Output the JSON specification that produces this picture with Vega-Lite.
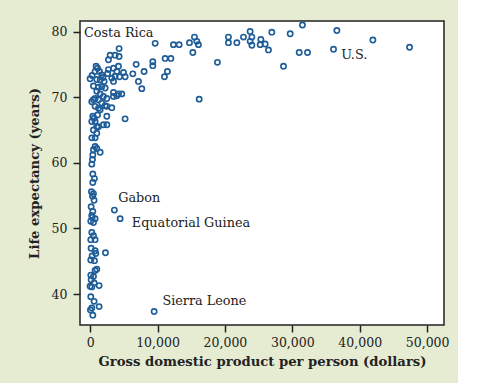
{
  "$schema": "https://vega.github.io/schema/vega-lite/v6.json",
  "width": 364,
  "height": 304,
  "autosize": {"type": "none"},
  "padding": {"left": 80, "top": 21, "right": 14, "bottom": 58},
  "background": "#e6ecd2",
  "config": {
    "view": {"stroke": "#222222", "strokeWidth": 1.5, "fill": "#ffffff"},
    "font": "DejaVu Serif"
  },
  "datasets": {
    "countries": [
      {"gdp": 22750, "life": 79.15}, {"gdp": 23740, "life": 80.0}, {"gdp": 24000, "life": 79.15},
      {"gdp": 23740, "life": 78.5}, {"gdp": 24000, "life": 77.9}, {"gdp": 25330, "life": 78.8},
      {"gdp": 25230, "life": 78.0}, {"gdp": 25970, "life": 78.1}, {"gdp": 26460, "life": 77.2},
      {"gdp": 26960, "life": 79.9}, {"gdp": 29680, "life": 79.65}, {"gdp": 31500, "life": 81.0},
      {"gdp": 28690, "life": 74.7}, {"gdp": 31020, "life": 76.8}, {"gdp": 32250, "life": 76.8},
      {"gdp": 36110, "life": 77.3}, {"gdp": 36610, "life": 80.15}, {"gdp": 41950, "life": 78.7},
      {"gdp": 47390, "life": 77.6}, {"gdp": 20520, "life": 79.15}, {"gdp": 20520, "life": 78.3},
      {"gdp": 21770, "life": 78.3}, {"gdp": 18890, "life": 75.3}, {"gdp": 16180, "life": 69.7},
      {"gdp": 15240, "life": 76.8}, {"gdp": 15480, "life": 79.15}, {"gdp": 15830, "life": 78.5},
      {"gdp": 16070, "life": 78.0}, {"gdp": 14740, "life": 78.3}, {"gdp": 12360, "life": 78.0},
      {"gdp": 13210, "life": 78.0}, {"gdp": 9650, "life": 78.2}, {"gdp": 11130, "life": 75.9},
      {"gdp": 11980, "life": 75.9}, {"gdp": 11470, "life": 73.9}, {"gdp": 11030, "life": 73.1},
      {"gdp": 9300, "life": 75.4}, {"gdp": 9300, "life": 74.8}, {"gdp": 8010, "life": 73.9},
      {"gdp": 6830, "life": 75.0}, {"gdp": 6340, "life": 73.55}, {"gdp": 7170, "life": 72.4},
      {"gdp": 7670, "life": 71.3}, {"gdp": 5190, "life": 66.7},
      {"gdp": 4300, "life": 77.4}, {"gdp": 2970, "life": 76.4}, {"gdp": 3710, "life": 76.4},
      {"gdp": 4300, "life": 76.2}, {"gdp": 2720, "life": 75.7}, {"gdp": 890, "life": 74.7},
      {"gdp": 740, "life": 73.9}, {"gdp": 1390, "life": 73.9}, {"gdp": 1730, "life": 73.4},
      {"gdp": 0, "life": 72.8}, {"gdp": 990, "life": 72.7}, {"gdp": 1490, "life": 72.6},
      {"gdp": 2080, "life": 72.4}, {"gdp": 2720, "life": 74.2}, {"gdp": 3470, "life": 74.4},
      {"gdp": 4210, "life": 74.7}, {"gdp": 3960, "life": 73.9}, {"gdp": 3710, "life": 73.2},
      {"gdp": 3220, "life": 72.9}, {"gdp": 4360, "life": 73.1}, {"gdp": 4950, "life": 73.75},
      {"gdp": 5200, "life": 73.1}, {"gdp": 3470, "life": 72.4}, {"gdp": 495, "life": 71.7},
      {"gdp": 1240, "life": 71.5}, {"gdp": 1730, "life": 71.6}, {"gdp": 2230, "life": 71.4},
      {"gdp": 990, "life": 70.9}, {"gdp": 1490, "life": 70.5}, {"gdp": 1980, "life": 70.1},
      {"gdp": 2480, "life": 69.8}, {"gdp": 740, "life": 69.8}, {"gdp": 1240, "life": 69.6},
      {"gdp": 1730, "life": 69.1}, {"gdp": 2230, "life": 68.7}, {"gdp": 495, "life": 69.6},
      {"gdp": 250, "life": 69.3}, {"gdp": 740, "life": 68.6}, {"gdp": 1240, "life": 68.3},
      {"gdp": 1490, "life": 68.1}, {"gdp": 2480, "life": 68.6}, {"gdp": 3220, "life": 68.4},
      {"gdp": 3470, "life": 70.7}, {"gdp": 4210, "life": 70.5}, {"gdp": 4700, "life": 70.5},
      {"gdp": 3470, "life": 70.1}, {"gdp": 3960, "life": 70.2}, {"gdp": 2480, "life": 67.1},
      {"gdp": 1980, "life": 65.8}, {"gdp": 1240, "life": 65.5}, {"gdp": 2480, "life": 65.8},
      {"gdp": 400, "life": 67.1}, {"gdp": 250, "life": 66.3}, {"gdp": 740, "life": 66.3},
      {"gdp": 990, "life": 65.5}, {"gdp": 495, "life": 65.0}, {"gdp": 990, "life": 64.5},
      {"gdp": 250, "life": 63.8}, {"gdp": 740, "life": 63.8}, {"gdp": 740, "life": 62.5},
      {"gdp": 495, "life": 62.0}, {"gdp": 990, "life": 62.2}, {"gdp": 1490, "life": 61.6},
      {"gdp": 400, "life": 61.2}, {"gdp": 250, "life": 59.8}, {"gdp": 400, "life": 58.3},
      {"gdp": 640, "life": 57.6}, {"gdp": 400, "life": 57.0}, {"gdp": 495, "life": 55.3},
      {"gdp": 350, "life": 54.9}, {"gdp": 590, "life": 54.3}, {"gdp": 150, "life": 53.3},
      {"gdp": 400, "life": 52.6}, {"gdp": 250, "life": 52.0}, {"gdp": 740, "life": 51.5},
      {"gdp": 100, "life": 51.1}, {"gdp": 495, "life": 50.9}, {"gdp": 250, "life": 49.4},
      {"gdp": 740, "life": 48.3}, {"gdp": 100, "life": 48.3}, {"gdp": 150, "life": 47.0},
      {"gdp": 740, "life": 46.6}, {"gdp": 840, "life": 46.2}, {"gdp": 100, "life": 45.2},
      {"gdp": 640, "life": 45.1}, {"gdp": 100, "life": 42.9}, {"gdp": 495, "life": 42.7},
      {"gdp": 150, "life": 42.2}, {"gdp": 0, "life": 41.2}, {"gdp": 250, "life": 41.1},
      {"gdp": 100, "life": 39.6}, {"gdp": 590, "life": 38.9}, {"gdp": 250, "life": 37.9},
      {"gdp": 50, "life": 37.6}, {"gdp": 400, "life": 36.8}, {"gdp": 2277, "life": 46.3},
      {"gdp": 1336, "life": 41.3}, {"gdp": 1336, "life": 38.1}, {"gdp": 990, "life": 43.8},
      {"gdp": 742, "life": 43.6}, {"gdp": 3600, "life": 52.8}, {"gdp": 4455, "life": 51.5},
      {"gdp": 9500, "life": 37.35}, {"gdp": 200, "life": 55.6}, {"gdp": 300, "life": 51.7},
      {"gdp": 500, "life": 48.9}, {"gdp": 300, "life": 45.8}, {"gdp": 600, "life": 41.7},
      {"gdp": 350, "life": 60.5}, {"gdp": 600, "life": 66.8}, {"gdp": 1100, "life": 67.3},
      {"gdp": 1900, "life": 73.0}, {"gdp": 2600, "life": 73.6}, {"gdp": 300, "life": 73.3},
      {"gdp": 1100, "life": 74.4}
    ],
    "labels": [
      {"gdp": -900, "life": 79.7, "name": "Costa Rica"},
      {"gdp": 37250, "life": 76.45, "name": "U.S."},
      {"gdp": 4160, "life": 54.6, "name": "Gabon"},
      {"gdp": 6190, "life": 50.8, "name": "Equatorial Guinea"},
      {"gdp": 10730, "life": 39.0, "name": "Sierra Leone"}
    ]
  },
  "layer": [
    {
      "data": {"name": "countries"},
      "mark": {"type": "point", "filled": false, "stroke": "#1f5d99", "strokeWidth": 1.7, "size": 27, "opacity": 1, "fill": "#ffffff", "fillOpacity": 0},
      "encoding": {
        "x": {
          "field": "gdp", "type": "quantitative",
          "scale": {"domain": [-1500, 52500], "nice": false, "zero": false},
          "axis": {
            "title": "Gross domestic product per person (dollars)",
            "values": [0, 10000, 20000, 30000, 40000, 50000],
            "format": ",d",
            "grid": false, "domain": false,
            "tickColor": "#222222", "tickSize": 7, "tickWidth": 1.5,
            "labelFont": "DejaVu Serif", "labelFontSize": 12.5, "labelColor": "#222222", "labelPadding": 4,
            "titleFont": "DejaVu Serif", "titleFontSize": 13.2, "titleFontWeight": "bold", "titleColor": "#222222", "titlePadding": 7
          }
        },
        "y": {
          "field": "life", "type": "quantitative",
          "scale": {"domain": [35.3, 81.6], "nice": false, "zero": false},
          "axis": {
            "title": "Life expectancy (years)",
            "values": [40, 50, 60, 70, 80],
            "grid": false, "domain": false,
            "tickColor": "#222222", "tickSize": 7, "tickWidth": 1.5,
            "labelFont": "DejaVu Serif", "labelFontSize": 12.5, "labelColor": "#222222", "labelPadding": 6,
            "titleFont": "DejaVu Serif", "titleFontSize": 13.2, "titleFontWeight": "bold", "titleColor": "#222222", "titlePadding": 10
          }
        }
      }
    },
    {
      "data": {"name": "labels"},
      "mark": {"type": "text", "align": "left", "baseline": "middle", "font": "DejaVu Serif", "fontSize": 12.8, "color": "#222222"},
      "encoding": {
        "x": {"field": "gdp", "type": "quantitative"},
        "y": {"field": "life", "type": "quantitative"},
        "text": {"field": "name"}
      }
    }
  ]
}
